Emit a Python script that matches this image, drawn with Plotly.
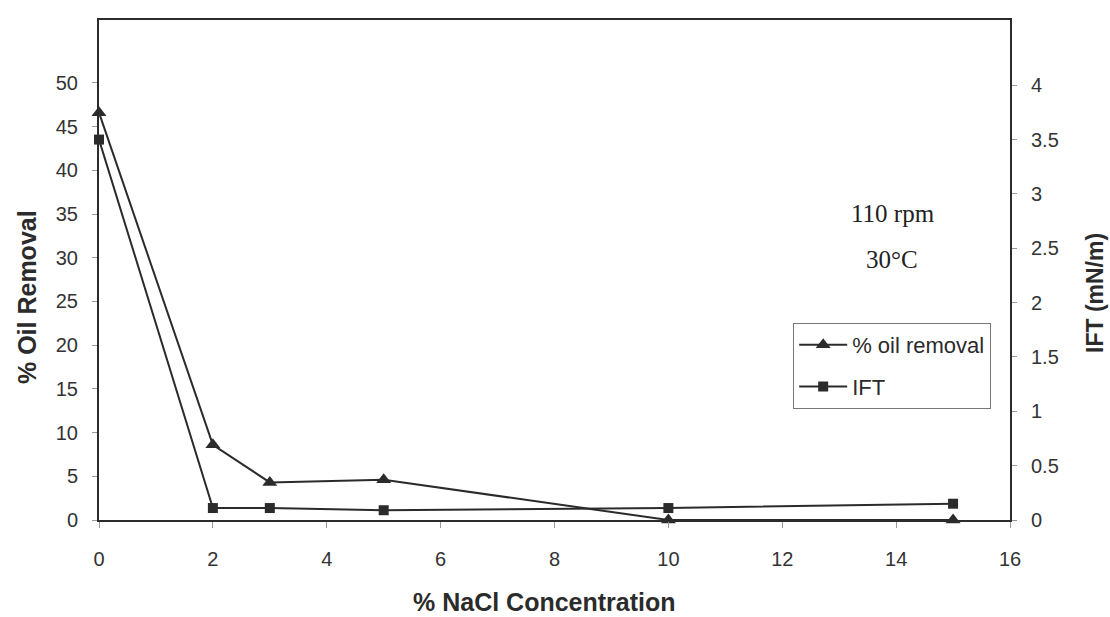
import plotly.graph_objects as go

# NaCl concentration (%) and the two measured responses
nacl = [0, 2, 3, 5, 10, 15]
oil_removal = [46.6, 8.6, 4.3, 4.6, 0.0, 0.0]   # % oil removal (left axis)
ift = [3.5, 0.11, 0.11, 0.09, 0.11, 0.15]       # IFT in mN/m (right axis)

x_ticks = list(range(0, 17, 2))
left_ticks = list(range(0, 51, 5))
right_ticks = [0, 0.5, 1, 1.5, 2, 2.5, 3, 3.5, 4]
right_ticktext = ["0", "0.5", "1", "1.5", "2", "2.5", "3", "3.5", "4"]

INK = "#2b2b2b"
SANS = "Liberation Sans, Arial, sans-serif"
SERIF = "Liberation Serif, Times New Roman, serif"
TICK_FONT = dict(family=SANS, size=20, color="#333333")

fig = go.Figure()

fig.add_trace(go.Scatter(
    x=nacl, y=oil_removal, name="% oil removal", mode="lines+markers",
    line=dict(color=INK, width=2),
    marker=dict(symbol="triangle-up", size=13, color=INK),
    cliponaxis=False, legendgroup="a", yaxis="y",
))
fig.add_trace(go.Scatter(
    x=nacl, y=ift, name="IFT", mode="lines+markers",
    line=dict(color=INK, width=2),
    marker=dict(symbol="square", size=10, color=INK),
    cliponaxis=False, legendgroup="b", yaxis="y2",
))


def note(text, x, y, size, family=SANS, angle=0, color=INK):
    return dict(text=text, x=x, y=y, xref="paper", yref="paper",
                xanchor="center", yanchor="middle", textangle=angle,
                showarrow=False, font=dict(family=family, size=size, color=color))


fig.update_layout(
    width=1110, height=617,
    margin=dict(l=99, r=100, t=20, b=97),
    paper_bgcolor="white", plot_bgcolor="white",
    showlegend=True,
    legend=dict(
        x=0.762, y=0.394, xanchor="left", yanchor="top",
        bordercolor="#777777", borderwidth=1, bgcolor="white",
        font=dict(family=SANS, size=22, color="#2b2b2b"),
        tracegroupgap=10, itemwidth=48,
    ),
    xaxis=dict(
        range=[0, 16], tickvals=x_ticks, showgrid=False, zeroline=False,
        showline=True, linecolor=INK, linewidth=2, mirror=True,
        ticks="outside", ticklen=6, tickcolor="#999999", tickwidth=1,
        tickfont=TICK_FONT, ticklabelstandoff=14,
        automargin=False,
    ),
    yaxis=dict(
        range=[0, 57.2], tickvals=left_ticks, showgrid=False, zeroline=False,
        showline=True, linecolor=INK, linewidth=2,
        ticks="outside", ticklen=5, tickcolor="#999999", tickwidth=1,
        tickfont=TICK_FONT, ticklabelstandoff=10,
        automargin=False,
    ),
    yaxis2=dict(
        range=[0, 4.6], tickvals=right_ticks, ticktext=right_ticktext,
        overlaying="y", side="right", showgrid=False, zeroline=False,
        showline=True, linecolor=INK, linewidth=2,
        ticks="outside", ticklen=5, tickcolor="#999999", tickwidth=1,
        tickfont=TICK_FONT, ticklabelstandoff=10,
        automargin=False,
    ),
    annotations=[
        # axis titles
        note("<b>% NaCl Concentration</b>", 0.4885, -0.164, 25),
        note("<b>% Oil Removal</b>", -0.079, 0.446, 25, angle=-90),
        note("<b>IFT (mN/m)</b>", 1.0933, 0.454, 23, angle=-90),
        # test conditions
        note("110 rpm", 0.872, 0.614, 25, family=SERIF, color="#222222"),
        note("30°C", 0.870, 0.522, 25, family=SERIF, color="#222222"),
    ],
)

fig.write_html("out.html")
